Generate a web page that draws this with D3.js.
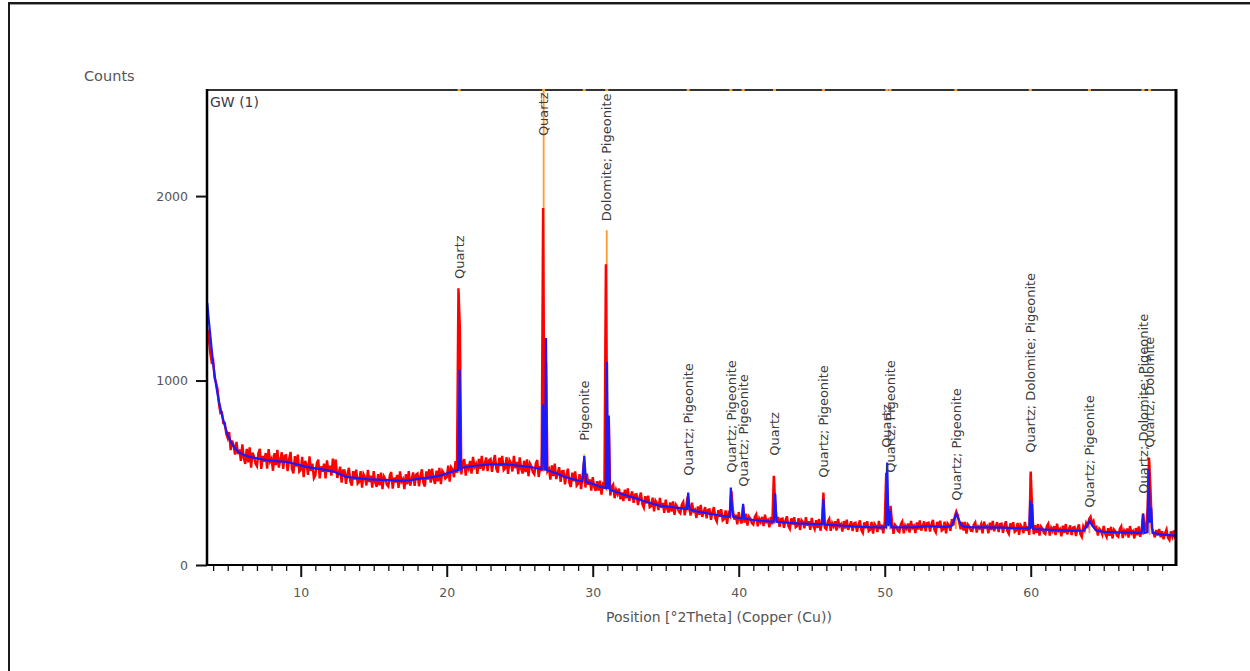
<!DOCTYPE html>
<html>
<head>
<meta charset="utf-8">
<script src="https://cdn.jsdelivr.net/npm/d3@7"></script>
<style>
  html, body { margin: 0; padding: 0; background: #fff; }
  svg { display: block; }
  text { font-family: "DejaVu Sans", sans-serif; }
</style>
</head>
<body>
<svg id="chart" width="1250" height="671"></svg>
<script>
// Measured scan: counts every 0.1 °2θ starting at 3.6
const scanStart = 3.6;
const scanStep = 0.1;
const obsCounts = [
  1280, 1230, 1150, 1100,
  1109, 1015, 988, 955, 873, 823, 826, 770, 770, 710,
  687, 721, 623, 674, 649, 598, 667, 601, 627, 564,
  654, 580, 548, 630, 556, 638, 528, 609, 588, 550,
  536, 607, 630, 521, 591, 560, 607, 522, 628, 561,
  577, 511, 607, 541, 624, 528, 570, 611, 521, 593,
  595, 509, 573, 613, 521, 496, 590, 534, 598, 506,
  516, 586, 476, 564, 544, 489, 589, 510, 550, 471,
  486, 551, 571, 470, 535, 506, 549, 470, 567, 504,
  539, 485, 577, 508, 572, 472, 498, 533, 447, 512,
  512, 440, 493, 527, 451, 430, 509, 463, 517, 441,
  450, 509, 419, 493, 477, 431, 516, 450, 485, 419,
  509, 448, 423, 492, 432, 501, 411, 480, 465, 435,
  425, 485, 504, 414, 474, 448, 488, 418, 507, 452,
  466, 411, 492, 438, 509, 430, 466, 502, 429, 490,
  496, 427, 483, 519, 445, 426, 507, 463, 519, 446,
  522, 463, 440, 512, 454, 526, 438, 510, 497, 469,
  476, 539, 452, 530, 518, 476, 563, 500, 1500, 1290,
  491, 553, 574, 485, 546, 523, 564, 495, 586, 532,
  548, 494, 575, 521, 591, 512, 548, 583, 509, 569,
  575, 505, 561, 596, 521, 501, 581, 536, 591, 515,
  525, 584, 494, 568, 553, 507, 591, 525, 559, 493,
  583, 522, 496, 565, 504, 573, 481, 550, 534, 503,
  492, 550, 569, 477, 536, 509, 1935, 547, 1100, 508,
  521, 463, 540, 482, 549, 466, 498, 530, 451, 508,
  510, 437, 490, 522, 445, 423, 501, 454, 507, 430,
  440, 493, 411, 477, 560, 420, 495, 434, 464, 403,
  476, 425, 402, 455, 404, 457, 382, 435, 420, 1630,
  600, 800, 377, 423, 436, 362, 407, 385, 414, 356,
  393, 346, 408, 361, 415, 348, 374, 399, 337, 382,
  384, 325, 367, 392, 330, 311, 373, 334, 376, 313,
  319, 365, 291, 349, 335, 298, 364, 310, 337, 283,
  354, 305, 284, 339, 290, 345, 272, 327, 314, 289,
  280, 327, 342, 269, 316, 370, 326, 268, 338, 291,
  300, 255, 317, 272, 326, 261, 288, 314, 253, 299,
  302, 245, 287, 314, 253, 235, 298, 261, 303, 242,
  249, 296, 223, 282, 269, 400, 299, 246, 273, 220,
  287, 244, 225, 320, 230, 278, 214, 262, 250, 227,
  219, 261, 275, 210, 251, 233, 261, 211, 273, 234,
  244, 204, 261, 221, 484, 330, 238, 261, 207, 250,
  252, 202, 241, 264, 211, 196, 253, 220, 259, 205,
  212, 254, 190, 243, 232, 199, 259, 213, 237, 191,
  255, 213, 194, 243, 201, 249, 186, 235, 393, 202,
  194, 236, 250, 185, 227, 209, 237, 187, 250, 210,
  221, 181, 238, 198, 246, 190, 214, 237, 184, 226,
  229, 180, 218, 242, 189, 174, 231, 199, 237, 184,
  191, 233, 170, 223, 211, 179, 239, 193, 218, 172,
  236, 500, 215, 240, 320, 232, 169, 218, 208, 186,
  179, 222, 236, 172, 214, 197, 225, 176, 239, 201,
  212, 173, 231, 192, 242, 186, 211, 236, 183, 227,
  230, 181, 221, 245, 192, 177, 234, 201, 240, 186,
  193, 235, 172, 226, 215, 185, 249, 214, 264, 290,
  270, 230, 194, 233, 187, 234, 170, 219, 208, 186,
  184, 218, 231, 176, 209, 199, 221, 172, 235, 204,
  211, 172, 229, 190, 239, 183, 208, 232, 179, 221,
  224, 175, 213, 237, 184, 169, 226, 194, 232, 179,
  186, 228, 164, 217, 205, 173, 233, 186, 211, 164,
  507, 300, 167, 216, 174, 222, 159, 208, 197, 175,
  168, 211, 224, 160, 201, 184, 211, 162, 224, 185,
  195, 156, 213, 174, 222, 166, 191, 215, 162, 203,
  206, 157, 196, 220, 167, 152, 209, 190, 228, 212,
  250, 262, 225, 238, 198, 205, 160, 196, 186, 165,
  212, 170, 152, 200, 158, 207, 144, 192, 182, 160,
  153, 196, 210, 146, 187, 170, 198, 149, 211, 172,
  183, 144, 200, 161, 209, 153, 190, 280, 200, 190,
  300, 583, 420, 200, 178, 150, 190, 160, 195, 150,
  183, 140, 173, 193, 147, 135, 182, 154, 187, 141,
  165
];

// Calculated profile (°2θ, counts)
const calcTheta = [
  3.6, 3.7, 3.8, 3.9, 4.0, 4.1, 4.2, 4.35, 4.5, 4.65, 4.8, 5.0, 5.27, 5.5, 5.72,
  6.0, 6.5, 7.0, 7.67, 8.5, 9.0, 9.5, 10.0, 10.4, 11.0, 11.78, 12.3, 12.8, 13.15,
  14.0, 14.5, 15.2, 15.9, 16.8, 17.4, 17.94, 18.5, 19.1, 19.6, 20.0, 20.4, 20.8,
  20.88, 20.96, 21.0, 21.5, 22.0, 22.5, 23.0, 23.5, 24.0, 24.5, 25.0, 25.5, 26.0,
  26.5, 26.6, 26.68, 26.74, 26.8, 26.86, 27.0, 27.5, 28.0, 28.5, 29.0, 29.3, 29.42,
  29.54, 30.0, 30.5, 30.9, 30.98, 31.04, 31.1, 31.16, 31.5, 32.0, 32.5, 33.0, 33.5,
  34.0, 34.5, 35.0, 35.5, 36.0, 36.45, 36.54, 36.63, 37.0, 37.5, 38.0, 38.5, 39.0,
  39.38, 39.46, 39.54, 39.62, 40.0, 40.22, 40.3, 40.38, 41.0, 41.5, 42.0, 42.4,
  42.5, 42.58, 43.0, 44.0, 45.0, 45.72, 45.8, 45.88, 46.0, 47.0, 48.0, 49.0, 50.08,
  50.17, 50.26, 50.36, 50.45, 51.0, 52.0, 53.0, 53.5, 54.0, 54.4, 54.6, 54.75, 54.9,
  55.05, 55.2, 55.4, 56.0, 57.0, 58.0, 59.0, 59.9, 59.97, 60.05, 60.1, 60.16, 61.0,
  62.0, 63.0, 63.6, 63.8, 64.02, 64.25, 64.5, 65.0, 66.0, 67.0, 67.6, 67.69, 67.78,
  68.0, 68.07, 68.16, 68.25, 68.34, 69.0, 70.0
];
const calcCounts = [
  1420, 1330, 1250, 1170, 1094, 1030, 975, 905, 850, 800, 755, 705, 660, 633, 613,
  600, 586, 578, 568, 562, 559, 550, 540, 532, 524, 514, 505, 488, 478,
  470, 466, 463, 460, 456, 459, 466, 471, 478, 486, 496, 506, 516,
  1060, 522, 526, 533, 538, 542, 545, 546, 545, 542, 538, 533, 527,
  519, 870, 518, 517, 1230, 515, 511, 497, 480, 468, 458, 454, 590,
  451, 440, 425, 416, 1100, 412, 810, 409, 398, 385, 372, 360, 347,
  335, 323, 318, 313, 308, 304, 392, 302, 292, 285, 278, 271, 265,
  262, 420, 300, 261, 255, 253, 332, 252, 244, 240, 237, 235,
  387, 234, 231, 226, 223, 221, 358, 220, 219, 214, 208, 205, 204,
  556, 210, 294, 204, 204, 205, 209, 210, 207, 208, 214, 245, 276,
  250, 222, 208, 204, 204, 203, 200, 197, 350, 197, 330, 195, 192,
  188, 185, 187, 205, 240, 210, 186, 180, 177, 175, 173, 276, 173,
  178, 521, 230, 312, 175, 165, 159
];

// Identified reflections: position, reference-stick intensity, stick foot, label start level
const phasePos   = [20.85, 26.64, 29.42, 30.96, 36.54, 39.46, 40.30, 42.45, 45.80, 50.14, 50.36, 54.87, 59.97, 64.02, 67.69, 68.14];
const phaseTop   = [1480, 2700, 600, 1815, 330, 380, 300, 480, 380, 530, 300, 260, 500, 230, 260, 560];
const phaseBase  = [500, 505, 440, 400, 290, 248, 240, 222, 208, 192, 192, 195, 182, 172, 162, 162];
const phaseLabels = [
  "Quartz", "Quartz", "Pigeonite", "Dolomite; Pigeonite", "Quartz; Pigeonite",
  "Quartz; Pigeonite", "Quartz; Pigeonite", "Quartz", "Quartz; Pigeonite", "Quartz",
  "Quartz; Pigeonite", "Quartz; Pigeonite", "Quartz; Dolomite; Pigeonite",
  "Quartz; Pigeonite", "Quartz; Dolomite; Pigeonite", "Quartz; Dolomite"
];
const labelCounts = [1550, 2325, 673, 1864, 484, 500, 424, 592, 473, 635, 500, 348, 608, 310, 386, 635];

const xTicks = [10, 20, 30, 40, 50, 60];
const yTicks = [0, 1000, 2000];
const xMinorTicks = d3.range(4, 70);

const svg = d3.select("#chart");
const plot = { left: 207, right: 1176, top: 90, bottom: 565 };

const x = d3.scaleLinear().domain([3.58, 69.95]).range([plot.left, plot.right]);
const y = d3.scaleLinear().domain([0, 2575]).range([plot.bottom, plot.top]);

// page frame
svg.append("rect").attr("x", 8).attr("y", 2).attr("width", 1242).attr("height", 2).attr("fill", "#1a1a1a");
svg.append("rect").attr("x", 8).attr("y", 4).attr("width", 1242).attr("height", 1).attr("fill", "#9a9a9a");
svg.append("rect").attr("x", 8).attr("y", 2).attr("width", 2).attr("height", 669).attr("fill", "#1a1a1a");

svg.append("clipPath").attr("id", "plotClip")
  .append("rect")
  .attr("x", plot.left).attr("y", plot.top)
  .attr("width", plot.right - plot.left).attr("height", plot.bottom - plot.top);

const data = svg.append("g").attr("clip-path", "url(#plotClip)");

// reference sticks (underneath the profiles)
data.append("g").selectAll("line")
  .data(phasePos)
  .join("line")
  .attr("x1", d => x(d)).attr("x2", d => x(d))
  .attr("y1", (d, i) => y(phaseBase[i]))
  .attr("y2", (d, i) => y(phaseTop[i]))
  .attr("stroke", "#ff9a2e")
  .attr("stroke-width", 1.8);

// measured pattern
const obsLine = d3.line()
  .x((d, i) => x(scanStart + i * scanStep))
  .y(d => y(d));
data.append("path")
  .datum(obsCounts)
  .attr("d", obsLine)
  .attr("fill", "none")
  .attr("stroke", "#ff0000")
  .attr("stroke-width", 2.4)
  .attr("stroke-linejoin", "miter");

// calculated profile
const calcLine = d3.line()
  .x(d => x(d[0]))
  .y(d => y(d[1]));
data.append("path")
  .datum(calcTheta.map((t, i) => [t, calcCounts[i]]))
  .attr("d", calcLine)
  .attr("fill", "none")
  .attr("stroke", "#1a1aff")
  .attr("stroke-width", 2.2);

// phase labels
data.append("g").selectAll("text")
  .data(phasePos)
  .join("text")
  .attr("transform", (d, i) => `translate(${x(d)},${y(labelCounts[i])}) rotate(-90)`)
  .attr("dy", "0.36em")
  .attr("text-anchor", "start")
  .attr("font-size", 13)
  .attr("fill", "#3c3c3c")
  .text((d, i) => phaseLabels[i]);

// plot frame: top and right edges
svg.append("line")
  .attr("x1", plot.left).attr("x2", plot.right + 1)
  .attr("y1", plot.top).attr("y2", plot.top)
  .attr("stroke", "#333").attr("stroke-width", 2);
svg.append("line")
  .attr("x1", plot.right).attr("x2", plot.right)
  .attr("y1", plot.top - 1).attr("y2", plot.bottom + 1)
  .attr("stroke", "#000").attr("stroke-width", 3);

// reflection markers on the top edge
svg.append("g").selectAll("rect")
  .data(phasePos)
  .join("rect")
  .attr("x", d => x(d) - 1.5).attr("y", plot.top - 1)
  .attr("width", 3).attr("height", 2)
  .attr("fill", "#ffa030");

// x axis
const xMinor = svg.append("g")
  .attr("transform", `translate(0,${plot.bottom})`)
  .call(d3.axisBottom(x).tickValues(xMinorTicks.filter(v => v % 10 !== 0)).tickSize(6).tickFormat(""));
xMinor.select(".domain").remove();
xMinor.selectAll(".tick line").attr("stroke", "#111").attr("stroke-width", 1.3);

const xMajor = svg.append("g")
  .attr("transform", `translate(0,${plot.bottom})`)
  .call(d3.axisBottom(x).tickValues(xTicks).tickSize(12).tickPadding(11).tickFormat(d3.format("d")));
xMajor.select(".domain").remove();
xMajor.selectAll(".tick line").attr("stroke", "#111").attr("stroke-width", 2);
xMajor.selectAll(".tick text")
  .attr("font-family", "DejaVu Sans, sans-serif")
  .attr("font-size", 12.5).attr("fill", "#555");

// y axis
const yAxis = svg.append("g")
  .attr("transform", `translate(${plot.left},0)`)
  .call(d3.axisLeft(y).tickValues(yTicks).tickSize(11).tickPadding(8).tickFormat(d3.format("d")));
yAxis.select(".domain").remove();
yAxis.selectAll(".tick line").attr("stroke", "#111").attr("stroke-width", 2);
yAxis.selectAll(".tick text")
  .attr("font-family", "DejaVu Sans, sans-serif")
  .attr("font-size", 12.5).attr("fill", "#555");

// axis lines
svg.append("line")
  .attr("x1", plot.left).attr("x2", plot.left)
  .attr("y1", plot.top - 1).attr("y2", plot.bottom + 1)
  .attr("stroke", "#000").attr("stroke-width", 2.5);
svg.append("line")
  .attr("x1", plot.left - 1).attr("x2", plot.right + 1)
  .attr("y1", plot.bottom).attr("y2", plot.bottom)
  .attr("stroke", "#000").attr("stroke-width", 2);

// titles
svg.append("text")
  .attr("x", 84).attr("y", 81)
  .attr("font-size", 14.5).attr("fill", "#555")
  .text("Counts");
svg.append("text")
  .attr("x", 210).attr("y", 107)
  .attr("font-size", 14).attr("fill", "#3a3a4a")
  .text("GW (1)");
svg.append("text")
  .attr("x", 719).attr("y", 622)
  .attr("text-anchor", "middle")
  .attr("font-size", 14).attr("fill", "#555")
  .text("Position [°2Theta] (Copper (Cu))");
</script>
</body>
</html>
